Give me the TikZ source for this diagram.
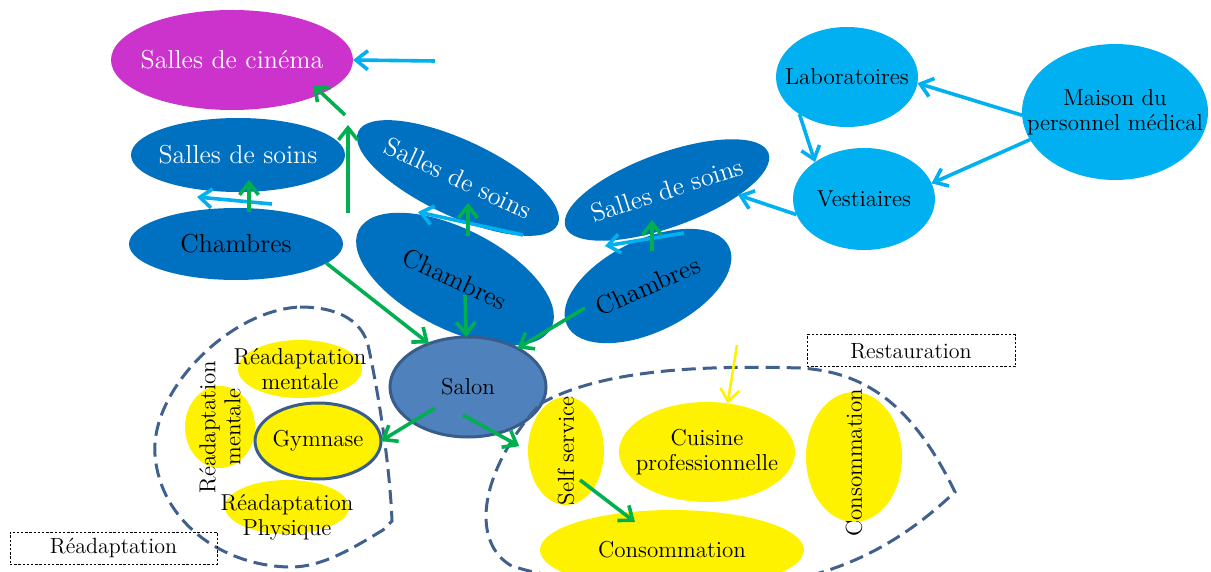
\documentclass[tikz,border=0pt]{standalone}
\usepackage{fontspec}
\usetikzlibrary{shapes.geometric,arrows.meta}
\definecolor{cinema}{HTML}{CC33CC}
\definecolor{roomblue}{HTML}{0070C0}
\definecolor{staffblue}{HTML}{00B0F0}
\definecolor{linkgreen}{HTML}{00B050}
\definecolor{salonfill}{HTML}{4F81BD}
\definecolor{salonline}{HTML}{385D8A}
\definecolor{zoneline}{HTML}{40608E}
\newcommand{\bigtxt}{\fontsize{13}{15}\selectfont}
\tikzset{
  area/.style 2 args={ellipse,inner sep=0pt,outer sep=0pt,minimum width=#1pt,minimum height=#2pt},
  tagbox/.style={draw,dash pattern=on 1.2pt off .9pt,line width=.5pt,inner sep=0pt,font=\fontsize{11}{12}\selectfont},
  zone/.style={draw=zoneline,line width=1.5pt,dash pattern=on 7pt off 3.5pt},
  staffarrow/.style={->,draw=staffblue,line width=1.8pt},
  linkarrow/.style={->,draw=linkgreen,line width=1.8pt},
  kitchenarrow/.style={->,draw=yellow,line width=1.3pt}
}
\begin{document}
\begin{tikzpicture}[x=.5pt,y=-.5pt,line width=.6pt,font=\fontsize{11.5}{12.5}\selectfont,>={Straight Barb[length=6pt,width=9.5pt]}]
  \useasboundingbox (0,0) rectangle (1211,572);
  % rooms
  \node[area={121}{50},fill=cinema,label={[white,font=\bigtxt]center:Salles de cinéma}] (cin) at (232,60) {};
  \node[area={107}{37},fill=roomblue,label={[white,font=\bigtxt]center:Salles de soins}] (ss1) at (238,155) {};
  \node[area={107}{36},fill=roomblue,label={[font=\bigtxt]center:Chambres}] (ch1) at (236,244) {};
  \node[area={110}{38},fill=roomblue,rotate=-25,label={[white,font=\bigtxt,rotate=-25]center:Salles de soins}] (ss2) at (458,178) {};
  \node[area={108}{50},fill=roomblue,rotate=-27,label={[font=\bigtxt,rotate=-25]center:Chambres}] (ch2) at (455,279) {};
  \node[area={108}{37},fill=roomblue,rotate=20,label={[white,font=\bigtxt,rotate=18]center:Salles de soins}] (ss3) at (667,190) {};
  \node[area={90}{46},fill=roomblue,rotate=26,label={[font=\bigtxt,rotate=24]center:Chambres}] (ch3) at (648,286) {};
  % staff
  \node[area={71}{50},fill=staffblue,label={center:Laboratoires}] (lab) at (847,77) {};
  \node[area={93}{68},fill=staffblue,label={[align=center]center:Maison du\\personnel médical}] (mai) at (1115,112) {};
  \node[area={71}{51},fill=staffblue,label={center:Vestiaires}] (ves) at (864,199) {};
  \node[area={78}{50},fill=salonfill,draw=salonline,line width=1.5pt,label={center:Salon}] (salon) at (468,387) {};
  % readaptation
  \node[area={62}{29},fill=yellow,label={[align=center]center:Réadaptation\\mentale}] (rmen) at (300,369) {};
  \node[area={35}{41},fill=yellow,label={[align=center,rotate=90]center:Réadaptation\\mentale}] (rmenv) at (220,427) {};
  \node[area={63}{38},fill=yellow,draw=salonline,line width=1.5pt,label={center:Gymnase}] (gym) at (318,441) {};
  \node[area={62}{27},fill=yellow,label={[align=center,yshift=-5pt]center:Réadaptation\\Physique}] (rphy) at (287,507) {};
  % restauration
  \node[area={38}{54},fill=yellow,label={[rotate=90]center:Self service}] (self) at (566,451) {};
  \node[area={88}{50},fill=yellow,label={[align=center]center:Cuisine\\professionnelle}] (cui) at (707,452) {};
  \node[area={48}{65},fill=yellow,label={[rotate=90,xshift=-3pt]center:Consommation}] (con1) at (854,457) {};
  \node[area={132}{40},fill=yellow,label={center:Consommation}] (con2) at (672,550) {};
  \draw[zone] (300,307) .. controls (340,307) and (362,322) .. (368,345)
    .. controls (380,400) and (390,470) .. (392,521) -- (383,530)
    .. controls (350,550) and (320,568) .. (288,567)
    .. controls (220,565) and (160,520) .. (155,455)
    .. controls (150,390) and (230,310) .. cycle;
  \draw[zone] (540,404) .. controls (600,370) and (700,365) .. (800,368)
    .. controls (870,372) and (915,410) .. (955,492)
    .. controls (930,515) and (880,560) .. (800,578)
    .. controls (700,590) and (560,585) .. (510,565)
    .. controls (470,540) and (480,470) .. cycle;
  \node[tagbox,minimum width=103.5pt,minimum height=16pt] (tagR) at (113.5,548) {Réadaptation};
  \node[tagbox,minimum width=104pt,minimum height=16pt] (tagS) at (911,351) {Restauration};
  % free ends
  \coordinate (cinIn) at (435,61);
  \coordinate (up1s) at (345,115);
  \coordinate (up1e) at (313,85);
  \coordinate (up2s) at (348,213);
  \coordinate (up2e) at (348,125);
  \coordinate (cy1s) at (272,204);
  \coordinate (cy1e) at (197,197);
  \coordinate (gr1s) at (249,212);
  \coordinate (gr1e) at (249,180);
  \coordinate (cy2s) at (523,235);
  \coordinate (cy2e) at (418,212);
  \coordinate (gr2s) at (468,236);
  \coordinate (gr2e) at (468,203);
  \coordinate (cy3s) at (684,233);
  \coordinate (cy3e) at (605,246);
  \coordinate (gr3s) at (652,251);
  \coordinate (gr3e) at (652,220);
  \coordinate (vesOut) at (738,195);
  \coordinate (ch2Out) at (465,295);
  \coordinate (ch3Out) at (585,308);
  \coordinate (salOut1) at (435,408);
  \coordinate (salOut2) at (463,415);
  \coordinate (selfOut) at (580,480);
  \coordinate (con2In) at (635,522);
  \coordinate (cuiIn) at (737,345);
  \draw[staffarrow] (cinIn)--(cin.east);
  \draw[linkarrow] (up1s)--(up1e);
  \draw[linkarrow] (up2s)--(up2e);
  \draw[staffarrow] (cy1s)--(cy1e);
  \draw[linkarrow] (gr1s)--(gr1e);
  \draw[staffarrow] (cy2s)--(cy2e);
  \draw[linkarrow] (gr2s)--(gr2e);
  \draw[staffarrow] (cy3s)--(cy3e);
  \draw[linkarrow] (gr3s)--(gr3e);
  \draw[staffarrow] (mai.182)--(lab.-5);
  \draw[staffarrow] (mai.198)--(ves.13);
  \draw[staffarrow] (lab.218)--(ves.143);
  \draw[staffarrow] (ves.193)--(vesOut);
  \draw[linkarrow] (ch1.-12)--(salon.132);
  \draw[linkarrow] (ch2Out)--(salon.92);
  \draw[linkarrow] (ch3Out)--(salon.38);
  \draw[linkarrow] (salOut1)--(gym.east);
  \draw[linkarrow,shorten >=5pt] (salOut2)--(self.west);
  \draw[linkarrow] (selfOut)--(con2In);
  \draw[kitchenarrow] (cuiIn)--(cui.67);
\end{tikzpicture}
\end{document}
